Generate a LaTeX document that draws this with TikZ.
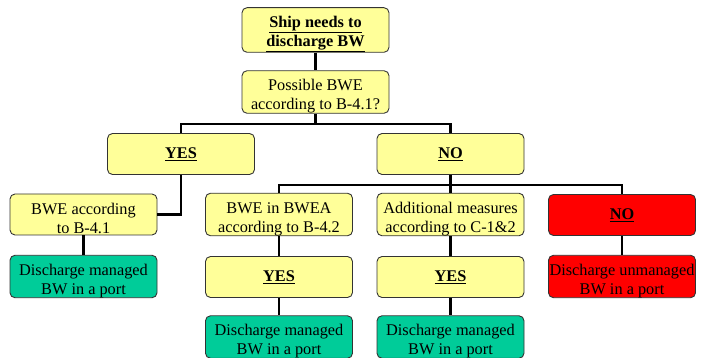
\documentclass[tikz,border=0pt]{standalone}
\usepackage{fontspec}
\setmainfont{Liberation Serif}
\definecolor{boxyellow}{HTML}{FFFF99}
\definecolor{boxgreen}{HTML}{00CC99}
\definecolor{boxred}{HTML}{FF0000}
\definecolor{boxedge}{HTML}{333333}
\newcommand{\ulb}[1]{\underline{\textbf{#1}}}
\newcommand{\tstrut}{\rule{0pt}{20pt}}
\begin{document}
\begin{tikzpicture}[x=1pt,y=-1pt,
  fbox/.style={draw=boxedge,line width=0.9pt,rounded corners=5pt,
    minimum width=147pt,minimum height=41pt,inner sep=0pt,align=center,
    font=\rmfamily\fontsize{16.3}{19}\selectfont},
  ybox/.style={fbox,fill=boxyellow},
  gbox/.style={fbox,fill=boxgreen},
  rbox/.style={fbox,fill=boxred},
  conn/.style={line width=2.6pt,black}]
\useasboundingbox (0,0) rectangle (707,358);
\coordinate (j1) at (315.5,124);
\coordinate (j2) at (450.5,185);
\node[ybox] (top) at (315.5,30) {\tstrut\ulb{Ship needs to}\\\ulb{discharge BW}};
\node[ybox] (q) at (315.5,92) {\tstrut Possible BWE\\according to B-4.1?};
\node[ybox] (yes1) at (181,154) {\ulb{YES}};
\node[ybox] (no1) at (450.5,154) {\ulb{NO}};
\node[ybox] (bwe41) at (83.5,214.5) {\tstrut BWE according\\to B-4.1};
\node[ybox] (bwea) at (279,214.5) {\tstrut BWE in BWEA\\according to B-4.2};
\node[ybox] (add) at (450.5,214.5) {\tstrut Additional measures\\according to C-1\&2};
\node[rbox] (no2) at (622,215) {\ulb{NO}};
\node[gbox] (dm1) at (83.5,276.5) {\tstrut Discharge managed\\BW in a port};
\node[ybox] (yes2) at (279,277) {\ulb{YES}};
\node[ybox] (yes3) at (450.5,277) {\ulb{YES}};
\node[rbox] (du) at (622,276.5) {\tstrut Discharge unmanaged\\BW in a port};
\node[gbox] (dm2) at (279,337) {\tstrut Discharge managed\\BW in a port};
\node[gbox] (dm3) at (450.5,337) {\tstrut Discharge managed\\BW in a port};
\draw[conn] (top) -- (q);
\draw[conn] (q) -- (j1);
\draw[conn] (yes1.north) |- (j1) -| (no1.north);
\draw[conn] (yes1.south) |- (bwe41.east);
\draw[conn] (no1) -- (add);
\draw[conn] (bwea.north) |- (j2) -| (no2.north);
\draw[conn] (bwe41) -- (dm1);
\draw[conn] (bwea) -- (yes2);
\draw[conn] (yes2) -- (dm2);
\draw[conn] (add) -- (yes3);
\draw[conn] (yes3) -- (dm3);
\draw[conn] (no2) -- (du);
\end{tikzpicture}
\end{document}
